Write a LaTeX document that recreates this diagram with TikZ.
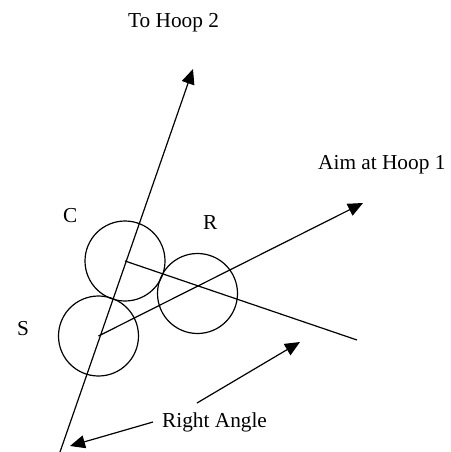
\documentclass[tikz,border=0pt]{standalone}
\usepackage{fontspec}
\setmainfont{Liberation Serif}
\usetikzlibrary{arrows.meta}
\begin{document}
\begin{tikzpicture}[x=1pt,y=-1pt,
  ln/.style={line width=1.2pt,black},
  arr/.style={ln,-{Triangle[length=15pt,width=13pt]}},
  ball/.style={circle,draw,line width=1.2pt,minimum size=80pt,inner sep=0pt},
  lbl/.style={anchor=base west,inner sep=0pt,font=\fontsize{21.3}{25}\selectfont}]
\useasboundingbox (0,0) rectangle (450,452);
% balls
\node[ball] (C) at (125,261) {};
\node[ball] (S) at (98.5,336) {};
\node[ball] (R) at (197.5,293.5) {};
% labels
\node[lbl] (tC) at (63,222) {C};
\node[lbl] (tR) at (203,229) {R};
\node[lbl] (tS) at (17,335) {S};
\node[lbl] (h2) at (128,28) {To Hoop 2};
\node[lbl] (h1) at (318,169) {Aim at Hoop 1};
\node[lbl] (ra) at (162,427) {Right Angle};
% coordinates
\coordinate (b1) at (60,452);
\coordinate (t1) at (193,69);
\coordinate (t2) at (363,203);
\coordinate (e3) at (357,340);
\coordinate (ra1) at (197,403);
\coordinate (ra1t) at (300,342);
\coordinate (ra2) at (153,422);
\coordinate (ra2t) at (70,446);
% lines
\draw[arr] (b1) -- (t1);
\draw[arr] (S.center) -- (t2);
\draw[ln] (C.center) -- (e3);
\draw[arr] (ra1) -- (ra1t);
\draw[arr] (ra2) -- (ra2t);
\end{tikzpicture}
\end{document}
